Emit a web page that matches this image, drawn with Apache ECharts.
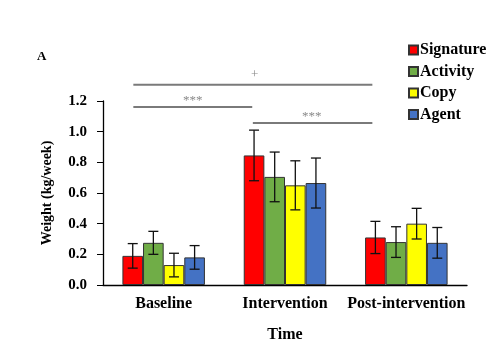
<!DOCTYPE html>
<html>
<head>
<meta charset="utf-8">
<script src="https://cdn.jsdelivr.net/npm/echarts@6/dist/echarts.min.js"></script>
<style>
  html, body { margin: 0; padding: 0; background: #fff; }
  #chart { width: 487px; height: 352px; }
</style>
</head>
<body>
<div id="chart"></div>
<script>
// data
const categories = ['Baseline', 'Intervention', 'Post-intervention']
const seriesNames = ['Signature', 'Activity', 'Copy', 'Agent']
const colors = ['#ff0000', '#70ad47', '#ffff00', '#4472c4']
const signature = [0.19, 0.845, 0.31]
const activity = [0.275, 0.705, 0.28]
const copy = [0.13, 0.65, 0.40]
const agent = [0.18, 0.665, 0.275]
const signatureErr = [0.08, 0.165, 0.105]
const activityErr = [0.075, 0.162, 0.10]
const copyErr = [0.077, 0.16, 0.10]
const agentErr = [0.077, 0.163, 0.10]
const yTicks = [0, 0.2, 0.4, 0.6, 0.8, 1.0, 1.2]
// significance brackets: [x start, x end, y] on a -0.5..2.5 position scale
const brackets = [
  [-0.25, 1.72, 1.306],
  [-0.25, 0.73, 1.161],
  [0.735, 1.72, 1.057]
]
const sigLabels = [
  ['+', 0.75, 1.375],
  ['***', 0.24, 1.205],
  ['***', 1.22, 1.10]
]

const values = [signature, activity, copy, agent]
const errs = [signatureErr, activityErr, copyErr, agentErr]
const font = '"Liberation Serif", "Times New Roman", serif'
const gapRatio = 0.32

let chart = echarts.init(document.getElementById('chart'))

let series = []
seriesNames.forEach((name, i) => {
  series.push({
    name: name,
    type: 'bar',
    data: values[i],
    barGap: '0%',
    barCategoryGap: (gapRatio * 100) + '%',
    itemStyle: { color: colors[i], borderColor: '#333', borderWidth: 1 }
  })
})
// error bars
seriesNames.forEach((name, i) => {
  series.push({
    type: 'custom',
    silent: true,
    z: 5,
    data: values[i].map((v, k) => [k, v, errs[i][k]]),
    renderItem: (params, api) => {
      const band = api.size([1, 0])[0]
      const bw = band * (1 - gapRatio) / 4
      const off = (i - 1.5) * bw
      const c = api.coord([api.value(0), api.value(1)])
      const hi = api.coord([api.value(0), api.value(1) + api.value(2)])
      const lo = api.coord([api.value(0), api.value(1) - api.value(2)])
      const x = c[0] + off
      const cap = 5
      const style = { stroke: '#111', lineWidth: 1.3 }
      return {
        type: 'group',
        children: [
          { type: 'line', shape: { x1: x, y1: hi[1], x2: x, y2: lo[1] }, style: style },
          { type: 'line', shape: { x1: x - cap, y1: hi[1], x2: x + cap, y2: hi[1] }, style: style },
          { type: 'line', shape: { x1: x - cap, y1: lo[1], x2: x + cap, y2: lo[1] }, style: style }
        ]
      }
    }
  })
})
// significance lines
brackets.forEach(b => {
  series.push({
    type: 'line',
    xAxisIndex: 1,
    data: [[b[0], b[2]], [b[1], b[2]]],
    symbol: 'none',
    clip: false,
    silent: true,
    lineStyle: { color: '#7a7a7a', width: 2 }
  })
})
series.push({
  type: 'scatter',
  xAxisIndex: 1,
  symbolSize: 1,
  clip: false,
  silent: true,
  itemStyle: { color: 'rgba(0,0,0,0)' },
  data: sigLabels.map(s => ({ value: [s[1], s[2]], name: s[0] })),
  label: {
    show: true,
    position: 'inside',
    formatter: p => p.name,
    color: '#6a6a6a',
    fontSize: 13,
    fontFamily: font
  }
})

let options = {
  animation: false,
  textStyle: { fontFamily: font },
  title: {
    text: 'A',
    left: 32,
    top: 45,
    textStyle: { fontSize: 13, fontWeight: 'bold', fontFamily: font, color: '#000' }
  },
  legend: {
    data: seriesNames,
    orient: 'vertical',
    left: 403,
    top: 37,
    itemWidth: 9,
    itemHeight: 9,
    itemGap: 5.5,
    icon: 'rect',
    textStyle: { fontSize: 16, fontWeight: 'bold', fontFamily: font, color: '#000', padding: [0, 0, 0, -3] }
  },
  grid: { left: 103, right: 20, top: 101, bottom: 67 },
  xAxis: [
    {
      type: 'category',
      data: categories,
      name: 'Time',
      nameLocation: 'middle',
      nameGap: 42,
      nameTextStyle: { fontSize: 16, fontWeight: 'bold', fontFamily: font, color: '#000' },
      axisLine: { lineStyle: { color: '#000', width: 1.3 } },
      axisTick: { show: false },
      axisLabel: { interval: 0, fontSize: 16, fontWeight: 'bold', fontFamily: font, color: '#000', margin: 11 }
    },
    {
      type: 'value',
      min: -0.5,
      max: 2.5,
      show: false
    }
  ],
  yAxis: {
    type: 'value',
    min: 0,
    max: 1.2,
    interval: 0.2,
    name: 'Weight (kg/week)',
    nameLocation: 'middle',
    nameRotate: 90,
    nameGap: 49,
    nameTextStyle: { fontSize: 14, fontWeight: 'bold', fontFamily: font, color: '#000' },
    axisLine: { show: true, onZero: false, lineStyle: { color: '#000', width: 1.3 } },
    axisTick: { show: true, length: 6, lineStyle: { color: '#000' } },
    splitLine: { show: false },
    axisLabel: {
      fontSize: 15,
      fontWeight: 'bold',
      fontFamily: font,
      color: '#000',
      margin: 16,
      formatter: v => yTicks.indexOf(Math.round(v * 10) / 10) >= 0 ? v.toFixed(1) : ''
    }
  },
  series: series
}
chart.setOption(options)
</script>
</body>
</html>
